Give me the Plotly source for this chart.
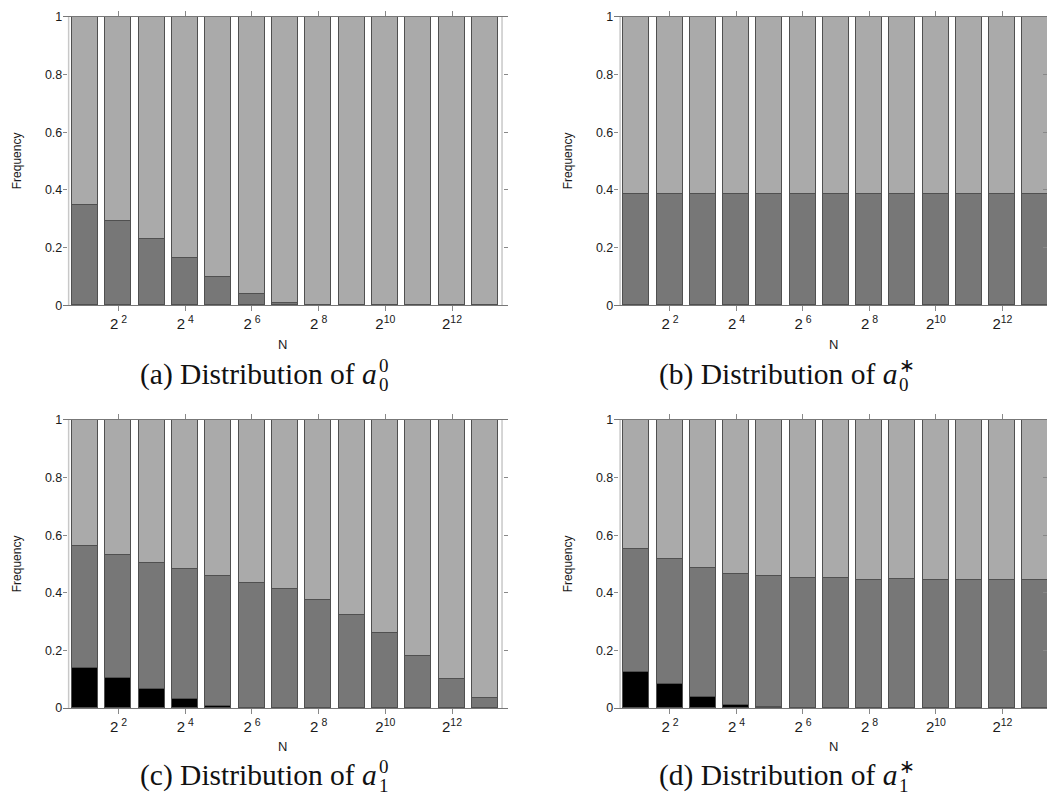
import plotly.graph_objects as go

# ---------------- data ----------------
N_pos = list(range(1, 14))                 # bars for N = 2^1 ... 2^13
tick_vals = [2, 4, 6, 8, 10, 12]
tick_text = ["2<sup>\u00a02</sup>", "2<sup>\u00a04</sup>", "2<sup>\u00a06</sup>",
             "2<sup>\u00a08</sup>", "2<sup>10</sup>", "2<sup>12</sup>"]
y_tick_vals = [0, 0.2, 0.4, 0.6, 0.8, 1]
y_tick_text = ["0", "0.2", "0.4", "0.6", "0.8", "1"]

# (a) a_0^0
a00_dark = [0.349, 0.294, 0.232, 0.166, 0.098, 0.038, 0.007, 0, 0, 0, 0, 0, 0]
a00_light = [0.651, 0.706, 0.768, 0.834, 0.902, 0.962, 0.993, 1, 1, 1, 1, 1, 1]

# (b) a_0^*
a0s_dark = [0.385, 0.385, 0.385, 0.385, 0.385, 0.385, 0.385, 0.385, 0.385, 0.385, 0.385, 0.385, 0.385]
a0s_light = [0.615, 0.615, 0.615, 0.615, 0.615, 0.615, 0.615, 0.615, 0.615, 0.615, 0.615, 0.615, 0.615]

# (c) a_1^0
a10_black = [0.141, 0.104, 0.068, 0.032, 0.008, 0, 0, 0, 0, 0, 0, 0, 0]
a10_dark = [0.420, 0.429, 0.437, 0.450, 0.449, 0.434, 0.412, 0.374, 0.322, 0.260, 0.182, 0.101, 0.035]
a10_light = [0.439, 0.467, 0.495, 0.518, 0.543, 0.566, 0.588, 0.626, 0.678, 0.740, 0.818, 0.899, 0.965]

# (d) a_1^*
a1s_black = [0.127, 0.083, 0.038, 0.012, 0.003, 0, 0, 0, 0, 0, 0, 0, 0]
a1s_dark = [0.427, 0.436, 0.450, 0.455, 0.454, 0.453, 0.450, 0.446, 0.447, 0.446, 0.446, 0.445, 0.445]
a1s_light = [0.446, 0.481, 0.512, 0.533, 0.543, 0.547, 0.550, 0.554, 0.553, 0.554, 0.554, 0.555, 0.555]

# ---------------- styling ----------------
W, H = 1047, 808
C_BLACK, C_DARK, C_LIGHT = "#000000", "#777777", "#aaaaaa"
EDGE = "#505050"
BAR_W = 0.78
SANS = "Liberation Sans, Arial, sans-serif"
SERIF = "Liberation Serif, Times New Roman, serif"
TXT = "#1a1a1a"

def px_x(p):
    return p / W

def px_y(p):
    # vertical placement in page pixels (from top), with a small render correction
    q = (p - 5.2) / 0.9856
    return 1 - q / H

panels = [
    # (axis id, x-domain px, y-domain px, x-range, N-title x px, stacks)
    ("", (63.3, 507.7), (15, 304.3), [0.34, 13.67], 282,
     [(a00_dark, C_DARK), (a00_light, C_LIGHT)]),
    ("2", (614.3, 1047), (15, 304.3), [0.326, 13.34], 833,
     [(a0s_dark, C_DARK), (a0s_light, C_LIGHT)]),
    ("3", (63.3, 507.7), (419.3, 708.3), [0.34, 13.67], 282,
     [(a10_black, C_BLACK), (a10_dark, C_DARK), (a10_light, C_LIGHT)]),
    ("4", (614.3, 1047), (419.3, 708.3), [0.326, 13.34], 833,
     [(a1s_black, C_BLACK), (a1s_dark, C_DARK), (a1s_light, C_LIGHT)]),
]

fig = go.Figure()
layout = dict(
    width=W, height=H, margin=dict(l=0, r=0, t=0, b=0),
    paper_bgcolor="white", plot_bgcolor="white",
    barmode="stack", showlegend=False, bargap=0,
    font=dict(family=SANS, size=12, color=TXT),
)
shapes = []
annotations = []

for ax, (x0, x1), (yt, yb), xr, n_x, stacks in panels:
    for vals, col in stacks:
        fig.add_trace(go.Bar(
            x=N_pos, y=vals, width=BAR_W,
            marker=dict(color=col,
                        line=dict(color=EDGE, width=[1 if v > 0 else 0 for v in vals])),
            xaxis="x" + ax, yaxis="y" + ax, hoverinfo="skip",
        ))
    layout["xaxis" + ax] = dict(
        domain=[px_x(x0), min(1.0, px_x(x1))], range=xr,
        anchor="y" + ax, showgrid=False, zeroline=False,
        showline=True, linecolor="#777777", linewidth=1, mirror="ticks",
        ticks="outside", ticklen=5, tickcolor="#888888",
        tickvals=tick_vals, ticktext=tick_text,
        tickfont=dict(family=SANS, size=15, color=TXT),
    )
    layout["yaxis" + ax] = dict(
        domain=[px_y(yb), px_y(yt)], range=[0, 1],
        anchor="x" + ax, showgrid=False, zeroline=False,
        showline=False, mirror="ticks",
        ticks="inside", ticklen=4, tickcolor="#888888",
        tickvals=y_tick_vals, ticktext=y_tick_text,
        tickfont=dict(family=SANS, size=12.5, color=TXT),
    )
    # light vertical frame lines at the category edges
    for xv in (0.5, 13.5):
        shapes.append(dict(type="line", xref="x" + ax, yref="y" + ax + " domain",
                           x0=xv, x1=xv, y0=0, y1=1,
                           line=dict(color="#c8c8c8", width=1.5), layer="below"))
    # axis titles
    annotations.append(dict(text="Frequency", xref="paper", yref="paper",
                            x=px_x(x0 - 46), y=px_y((yt + yb) / 2), textangle=-90,
                            xanchor="center", yanchor="middle",
                            showarrow=False, font=dict(family=SANS, size=12, color=TXT)))
    annotations.append(dict(text="N", xref="paper", yref="paper",
                            x=px_x(n_x), y=px_y(yb + 39),
                            xanchor="center", yanchor="middle", showarrow=False,
                            font=dict(family=SANS, size=13, color=TXT)))

# captions: main text + stacked super/subscripts
captions = [
    ("(a) Distribution of <i>a</i>", "0", "0", 379, 374),
    ("(b) Distribution of <i>a</i>", "∗", "0", 899, 374),
    ("(c) Distribution of <i>a</i>", "0", "1", 379, 776),
    ("(d) Distribution of <i>a</i>", "∗", "1", 899, 776),
]
for main, sup, sub, xend, yc in captions:
    annotations.append(dict(text=main, xref="paper", yref="paper",
                            x=px_x(xend), y=px_y(yc), xanchor="right", yanchor="middle",
                            showarrow=False, font=dict(family=SERIF, size=29.5, color="#111111")))
    annotations.append(dict(text=sup, xref="paper", yref="paper",
                            x=px_x(xend - 2), y=px_y(yc - 9), xanchor="left", yanchor="middle",
                            showarrow=False, font=dict(family=SERIF, size=19, color="#111111")))
    annotations.append(dict(text=sub, xref="paper", yref="paper",
                            x=px_x(xend - 2), y=px_y(yc + 10), xanchor="left", yanchor="middle",
                            showarrow=False, font=dict(family=SERIF, size=19, color="#111111")))

layout["shapes"] = shapes
layout["annotations"] = annotations
fig.update_layout(**layout)
fig.write_html("out.html",
               config={"displayModeBar": False},
               post_script="document.body.style.margin='0px';"
                           "document.documentElement.style.overflow='hidden';")
